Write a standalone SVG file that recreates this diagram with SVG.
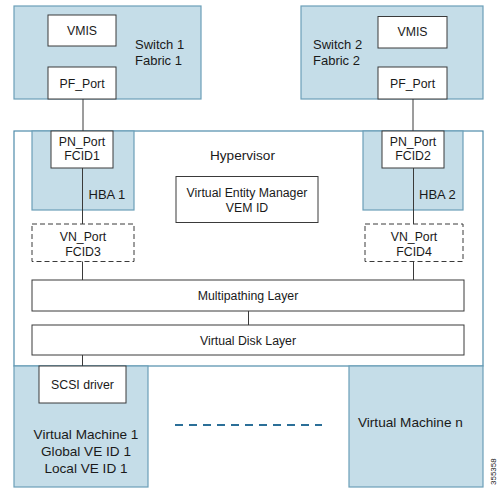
<svg xmlns="http://www.w3.org/2000/svg" width="500" height="496" viewBox="0 0 500 496">
<style>
.bg{fill:#ffffff}
.blue{fill:#c5dde8;stroke:#6b9fb8;stroke-width:1.2}
.hyp{fill:#ffffff;stroke:#4f8cab;stroke-width:1.2}
.box{fill:#ffffff;stroke:#3a3a3a;stroke-width:1}
.dbox{fill:#ffffff;stroke:#3a3a3a;stroke-width:1;stroke-dasharray:5 3}
.ln{stroke:#3a3a3a;stroke-width:1;fill:none}
text{font-family:"Liberation Sans",Arial,Helvetica,sans-serif;fill:#1a1a1a}
.s{font-size:12.3px;text-anchor:middle}
.m{font-size:13px}
.l{font-size:13.6px}
</style>
<rect class="bg" x="0" y="0" width="500" height="496"/>
<g id="hypervisor">
<rect class="hyp" x="14" y="131" width="469" height="235"/>
<text class="l" x="210" y="160">Hypervisor</text>
</g>
<g id="switch1">
<rect class="blue" x="14" y="6" width="187" height="93"/>
<text class="m" x="135" y="48.5">Switch 1</text>
<text class="m" x="135" y="65">Fabric 1</text>
</g>
<g id="vmis1">
<rect class="box" x="48" y="15" width="68" height="31"/>
<text class="s" x="82" y="35">VMIS</text>
</g>
<g id="pfport1">
<rect class="box" x="48" y="67" width="68" height="32"/>
<text class="s" x="82" y="87.5">PF_Port</text>
</g>
<g id="switch2">
<rect class="blue" x="301" y="6" width="182" height="93"/>
<text class="m" x="313" y="48.5">Switch 2</text>
<text class="m" x="313" y="65">Fabric 2</text>
</g>
<g id="vmis2">
<rect class="box" x="378" y="16.5" width="69" height="31.5"/>
<text class="s" x="412.5" y="36">VMIS</text>
</g>
<g id="pfport2">
<rect class="box" x="378" y="67" width="69" height="32"/>
<text class="s" x="412.5" y="87.5">PF_Port</text>
</g>
<g id="hba1">
<rect class="blue" x="32" y="131" width="102" height="79"/>
<text class="m" x="88.5" y="199">HBA 1</text>
</g>
<g id="pnport1">
<rect class="box" x="51" y="131" width="62" height="37"/>
<text class="s" x="82" y="146">PN_Port</text>
<text class="s" x="82" y="160">FCID1</text>
</g>
<g id="hba2">
<rect class="blue" x="363" y="131" width="100" height="79"/>
<text class="m" x="419" y="199">HBA 2</text>
</g>
<g id="pnport2">
<rect class="box" x="382" y="131" width="62" height="37"/>
<text class="s" x="413" y="146">PN_Port</text>
<text class="s" x="413" y="160">FCID2</text>
</g>
<g id="vem">
<rect class="box" x="176" y="176.5" width="142" height="46"/>
<text class="s" x="247" y="197">Virtual Entity Manager</text>
<text class="s" x="247" y="212">VEM ID</text>
</g>
<g id="vnport1">
<rect class="dbox" x="32" y="224" width="102" height="37.5"/>
<text class="s" x="83" y="241">VN_Port</text>
<text class="s" x="83" y="255.5">FCID3</text>
</g>
<g id="vnport2">
<rect class="dbox" x="365" y="224" width="98" height="37.5"/>
<text class="s" x="414" y="241">VN_Port</text>
<text class="s" x="414" y="255.5">FCID4</text>
</g>
<g id="multipathing">
<rect class="box" x="32" y="280" width="432" height="31"/>
<text class="s" x="248" y="300">Multipathing Layer</text>
</g>
<g id="vdisk">
<rect class="box" x="32" y="325" width="432" height="30"/>
<text class="s" x="248" y="344.5">Virtual Disk Layer</text>
</g>
<g id="vm1">
<rect class="blue" x="14" y="366" width="134" height="121"/>
<text class="l" x="86" y="439" text-anchor="middle">Virtual Machine 1</text>
<text class="l" x="86" y="456" text-anchor="middle">Global VE ID 1</text>
<text class="l" x="86" y="472.5" text-anchor="middle">Local VE ID 1</text>
</g>
<g id="scsi">
<rect class="box" x="39" y="366" width="87" height="37"/>
<text class="s" x="82.5" y="388.5">SCSI driver</text>
</g>
<g id="vmn">
<rect class="blue" x="349" y="366" width="134" height="121"/>
<text class="l" x="358" y="426.5">Virtual Machine n</text>
</g>
<g id="connectors">
<line class="ln" x1="83" y1="99" x2="83" y2="131"/>
<line class="ln" x1="413" y1="99" x2="413" y2="131"/>
<line class="ln" x1="82.5" y1="168" x2="82.5" y2="224"/>
<line class="ln" x1="413.5" y1="168" x2="413.5" y2="224"/>
<line class="ln" x1="82.5" y1="261.5" x2="82.5" y2="280"/>
<line class="ln" x1="413.5" y1="261.5" x2="413.5" y2="280"/>
<line class="ln" x1="248.5" y1="311" x2="248.5" y2="325"/>
<line class="ln" x1="82.5" y1="355" x2="82.5" y2="366"/>
<line x1="175" y1="425" x2="322" y2="425" stroke="#2b6f98" stroke-width="2" stroke-dasharray="8 6"/>
</g>
<text x="496" y="485" transform="rotate(-90 496 485)" style="font-size:8px">355358</text>
</svg>
